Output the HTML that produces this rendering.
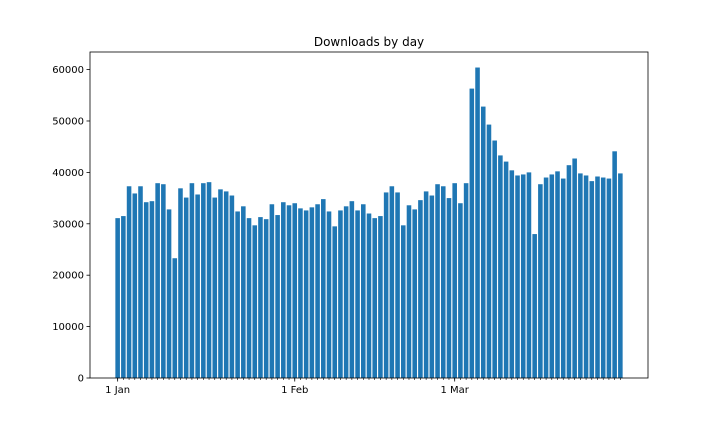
<!DOCTYPE html>
<html><head><meta charset="utf-8"><style>
body{margin:0;background:#fff;}
svg{display:block;font-family:"DejaVu Sans","Liberation Sans",sans-serif;}
</style></head><body>
<svg id="chart" width="720" height="432" viewBox="0 0 720 432" xmlns="http://www.w3.org/2000/svg">
<rect width="720" height="432" fill="#fff"/>
<text x="369" y="46" font-size="12" text-anchor="middle" fill="#000">Downloads by day</text>
<g id="bars"></g>
<g id="axes"></g>
</svg>
<script>
const janValues=[31100,31500,37300,35900,37300,34200,34400,37900,37700,32800,23300,36900,35100,37900,35700,37900,38100,35100,36700,36300,35500,32400,33400,31100,29700,31300,30900,33800,31700,34200,33600];
const febValues=[34000,33000,32600,33200,33800,34800,32400,29500,32600,33400,34400,32600,33800,32000,31100,31500,36100,37300,36100,29700,33600,32800,34600,36300,35500,37700,37300,35000,33600].slice(0,28);
const marValues=[37900,34000,37900,56300,60400,52800,49300,46200,43300,42100,40400,39400,39600,40000,28000,37700,39000,39600,40200,38800,41400,42700,39800,39400,38300,39200,39000,38800,44100,39800];
const values=janValues.concat(febValues,marValues);
const yTicks=[0,10000,20000,30000,40000,50000,60000];
const xTickLabels=["1 Jan","1 Feb","1 Mar"];
const xTickIndex=[0,31,59];

const NS="http://www.w3.org/2000/svg";
const L=90,R=648,T=52,B=378;
const n=values.length;
const dmin=-0.4,dmax=n-1+0.4,pad=(dmax-dmin)*0.05;
const xs=i=>L+(i-(dmin-pad))/((dmax+pad)-(dmin-pad))*(R-L);
const ymax=Math.max(...values)*1.05;
const ys=v=>B-v/ymax*(B-T);
function mk(tag,attrs,parent){const e=document.createElementNS(NS,tag);for(const k in attrs)e.setAttribute(k,attrs[k]);parent.appendChild(e);return e;}
const bars=document.getElementById('bars'),axes=document.getElementById('axes');
const bw=0.8*(xs(1)-xs(0));
values.forEach((v,i)=>{
  const r=mk('rect',{x:xs(i)-bw/2,y:ys(v),width:bw,height:B-ys(v),fill:'#1f77b4'},bars);
  
  
});
const frame=mk('rect',{x:L,y:T,width:R-L,height:B-T,fill:'none',stroke:'#000','stroke-width':0.8},axes);


yTicks.forEach(t=>{
  const y=ys(t);
  mk('line',{x1:L-3.5,x2:L,y1:y,y2:y,stroke:'#000','stroke-width':0.8},axes);
  const tx=mk('text',{x:L-6,y:y+3.5,'font-size':10,'text-anchor':'end',fill:'#000'},axes);
  tx.textContent=String(t);
  
  
});
for(let i=0;i<n;i++){
  const x=xs(i);
  mk('line',{x1:x,x2:x,y1:B,y2:B+2,stroke:'#000','stroke-width':0.6},axes);
}
xTickIndex.forEach((idx,k)=>{
  const x=xs(idx);
  mk('line',{x1:x,x2:x,y1:B,y2:B+3.5,stroke:'#000','stroke-width':0.8},axes);
  const tx=mk('text',{x:x,y:B+15,'font-size':10,'text-anchor':'middle',fill:'#000'},axes);
  tx.textContent=xTickLabels[k];
  
  
});
</script>
</body></html>
